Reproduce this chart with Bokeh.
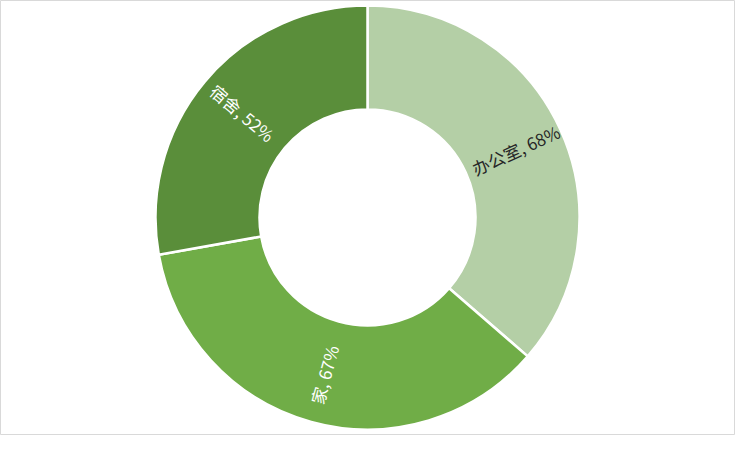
import math
from bokeh.plotting import figure
from bokeh.models import ColumnDataSource, Range1d
from bokeh.core.properties import value
from bokeh.embed import file_html
from bokeh.resources import INLINE

categories = ["办公室", "家", "宿舍"]
values = [68, 67, 52]
colors = ["#B4CFA6", "#70AD47", "#5A8E3A"]
label_colors = ["#262626", "#FFFFFF", "#FFFFFF"]

W, H = 735, 435
cx, cy = 367, H - 217
r_in, r_out = 108, 212

total = sum(values)
starts, ends, lx, ly, la, texts = [], [], [], [], [], []
acc = 0.0
for c, v in zip(categories, values):
    a0 = math.pi / 2 - 2 * math.pi * acc / total
    acc += v
    a1 = math.pi / 2 - 2 * math.pi * acc / total
    starts.append(a0)
    ends.append(a1)
    mid = (a0 + a1) / 2
    rm = (r_in + r_out) / 2 + 3
    lx.append(cx + rm * math.cos(mid))
    ly.append(cy + rm * math.sin(mid))
    # radial text orientation, kept readable
    ang = math.atan2(math.sin(mid), math.cos(mid))
    if math.cos(ang) < 0:
        ang = ang + math.pi
        ang = math.atan2(math.sin(ang), math.cos(ang))
    la.append(ang)
    texts.append(f"{c}, {v}%")

src = ColumnDataSource(dict(start=starts, end=ends, color=colors))
lsrc = ColumnDataSource(dict(x=lx, y=ly, angle=la, text=texts, tc=label_colors))

p = figure(width=W, height=H, output_backend="svg", toolbar_location=None,
           x_range=Range1d(0, W), y_range=Range1d(0, H), min_border=0)
p.axis.visible = False
p.grid.visible = False
p.outline_line_color = "#D9D9D9"
p.outline_line_width = 1
p.background_fill_color = "white"
p.border_fill_color = "white"

p.annular_wedge(x=cx, y=cy, inner_radius=r_in, outer_radius=r_out,
                start_angle="start", end_angle="end", direction="clock",
                fill_color="color", line_color="white", line_width=2.5, source=src)

p.text(x="x", y="y", text="text", angle="angle", text_color="tc",
       text_align="center", text_baseline="middle",
       text_font=value("Noto Sans CJK SC"), text_font_size="17px", source=lsrc)

open("out.html", "w").write(file_html(p, INLINE))
